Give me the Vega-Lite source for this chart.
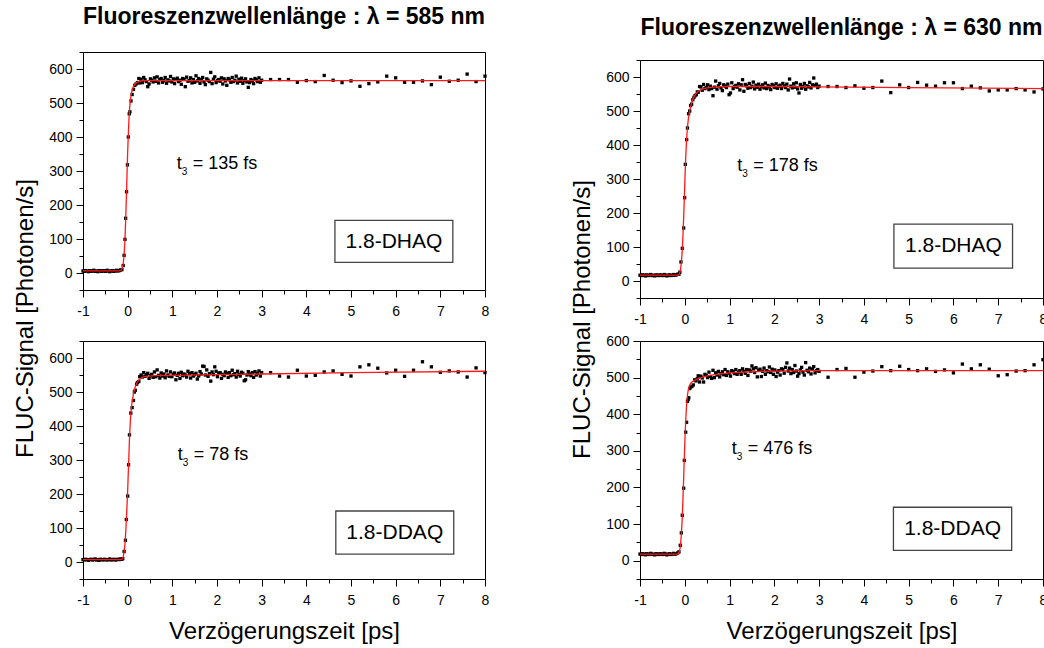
{
"$schema": "https://vega.github.io/schema/vega-lite/v6.json",
"padding": {"left": 13, "top": 5, "right": -2, "bottom": 0},
"background": "white",
"datasets": {
"A": [
{"x":-1.00,"y":6},{"x":-0.97,"y":5},{"x":-0.94,"y":7},{"x":-0.91,"y":6},{"x":-0.88,"y":4},{"x":-0.85,"y":7},{"x":-0.82,"y":5},{"x":-0.79,"y":6},{"x":-0.76,"y":8},{"x":-0.73,"y":5},{"x":-0.70,"y":6},{"x":-0.67,"y":4},{"x":-0.64,"y":7},{"x":-0.61,"y":6},{"x":-0.58,"y":5},{"x":-0.55,"y":7},{"x":-0.52,"y":6},{"x":-0.49,"y":5},{"x":-0.46,"y":8},{"x":-0.43,"y":6},{"x":-0.40,"y":4},{"x":-0.37,"y":6},{"x":-0.34,"y":7},{"x":-0.31,"y":5},{"x":-0.28,"y":6},{"x":-0.25,"y":8},{"x":-0.22,"y":6},{"x":-0.19,"y":7},{"x":-0.16,"y":9},
{"x":-0.13,"y":10},{"x":-0.10,"y":22},{"x":-0.08,"y":52},{"x":-0.06,"y":99},{"x":-0.045,"y":161},{"x":-0.025,"y":239},{"x":-0.005,"y":318},{"x":0.015,"y":400},{"x":0.035,"y":468},{"x":0.05,"y":474},{"x":0.075,"y":506},{"x":0.10,"y":525},{"x":0.13,"y":540},{"x":0.16,"y":552},{"x":0.19,"y":556},{"x":0.22,"y":560},{"x":0.25,"y":572},{"x":0.27,"y":559},
{"x":0.30,"y":570},{"x":0.33,"y":560},{"x":0.36,"y":575},{"x":0.39,"y":568},{"x":0.42,"y":563},{"x":0.45,"y":548},{"x":0.48,"y":556},{"x":0.51,"y":571},{"x":0.54,"y":567},{"x":0.57,"y":562},{"x":0.60,"y":574},{"x":0.63,"y":564},{"x":0.66,"y":577},{"x":0.69,"y":559},{"x":0.72,"y":569},{"x":0.75,"y":572},{"x":0.78,"y":561},{"x":0.81,"y":566},{"x":0.84,"y":575},{"x":0.87,"y":558},{"x":0.90,"y":568},{"x":0.93,"y":565},{"x":0.96,"y":578},{"x":0.99,"y":562},{"x":1.02,"y":571},{"x":1.05,"y":557},{"x":1.08,"y":569},{"x":1.11,"y":573},{"x":1.14,"y":563},{"x":1.17,"y":567},{"x":1.20,"y":555},{"x":1.23,"y":572},{"x":1.26,"y":570},{"x":1.29,"y":548},{"x":1.32,"y":576},{"x":1.35,"y":564},{"x":1.38,"y":566},{"x":1.41,"y":574},{"x":1.44,"y":559},{"x":1.47,"y":569},{"x":1.50,"y":561},{"x":1.53,"y":580},{"x":1.56,"y":565},{"x":1.59,"y":572},{"x":1.62,"y":558},{"x":1.65,"y":568},{"x":1.68,"y":575},{"x":1.71,"y":562},{"x":1.74,"y":554},{"x":1.77,"y":571},{"x":1.80,"y":567},{"x":1.83,"y":563},{"x":1.86,"y":590},{"x":1.89,"y":557},{"x":1.92,"y":570},{"x":1.95,"y":577},{"x":1.98,"y":560},{"x":2.01,"y":566},{"x":2.04,"y":569},{"x":2.07,"y":564},{"x":2.10,"y":574},{"x":2.13,"y":556},{"x":2.16,"y":571},{"x":2.19,"y":565},{"x":2.22,"y":552},{"x":2.25,"y":572},{"x":2.28,"y":568},{"x":2.31,"y":561},{"x":2.34,"y":575},{"x":2.37,"y":563},{"x":2.40,"y":567},{"x":2.43,"y":579},{"x":2.46,"y":559},{"x":2.49,"y":570},{"x":2.52,"y":564},{"x":2.55,"y":573},{"x":2.58,"y":558},{"x":2.61,"y":566},{"x":2.64,"y":571},{"x":2.67,"y":562},{"x":2.70,"y":546},{"x":2.73,"y":560},{"x":2.76,"y":569},{"x":2.79,"y":565},{"x":2.82,"y":557},{"x":2.85,"y":572},{"x":2.88,"y":568},{"x":2.91,"y":563},{"x":2.94,"y":574},{"x":2.97,"y":561},{"x":3.00,"y":567},
{"x":3.2,"y":569},{"x":3.4,"y":569},{"x":3.6,"y":569},{"x":3.8,"y":561},{"x":4.0,"y":566},{"x":4.2,"y":563},{"x":4.4,"y":581},{"x":4.6,"y":567},{"x":4.8,"y":560},{"x":5.0,"y":565},{"x":5.2,"y":549},{"x":5.4,"y":557},{"x":5.6,"y":562},{"x":5.8,"y":579},{"x":6.0,"y":574},{"x":6.2,"y":561},{"x":6.4,"y":561},{"x":6.6,"y":565},{"x":6.8,"y":554},{"x":7.0,"y":576},{"x":7.2,"y":564},{"x":7.4,"y":567},{"x":7.6,"y":585},{"x":7.8,"y":563},{"x":8.0,"y":579}
],
"B": [
{"x":-1.00,"y":7},{"x":-0.97,"y":6},{"x":-0.94,"y":8},{"x":-0.91,"y":7},{"x":-0.88,"y":5},{"x":-0.85,"y":7},{"x":-0.82,"y":8},{"x":-0.79,"y":6},{"x":-0.76,"y":7},{"x":-0.73,"y":9},{"x":-0.70,"y":6},{"x":-0.67,"y":7},{"x":-0.64,"y":5},{"x":-0.61,"y":8},{"x":-0.58,"y":7},{"x":-0.55,"y":6},{"x":-0.52,"y":8},{"x":-0.49,"y":7},{"x":-0.46,"y":6},{"x":-0.43,"y":7},{"x":-0.40,"y":9},{"x":-0.37,"y":6},{"x":-0.34,"y":7},{"x":-0.31,"y":8},{"x":-0.28,"y":6},{"x":-0.25,"y":7},{"x":-0.22,"y":8},{"x":-0.19,"y":7},{"x":-0.16,"y":9},
{"x":-0.13,"y":8},{"x":-0.11,"y":10},{"x":-0.08,"y":31},{"x":-0.05,"y":64},{"x":-0.03,"y":125},{"x":0.0,"y":194},{"x":0.02,"y":286},{"x":0.04,"y":374},{"x":0.07,"y":438},{"x":0.10,"y":454},{"x":0.13,"y":475},{"x":0.15,"y":500},{"x":0.17,"y":505},{"x":0.20,"y":523},{"x":0.22,"y":528},{"x":0.25,"y":531},{"x":0.27,"y":545},
{"x":0.30,"y":550},{"x":0.33,"y":544},{"x":0.36,"y":557},{"x":0.39,"y":546},{"x":0.42,"y":551},{"x":0.45,"y":555},{"x":0.48,"y":540},{"x":0.51,"y":548},{"x":0.54,"y":552},{"x":0.57,"y":543},{"x":0.60,"y":559},{"x":0.63,"y":545},{"x":0.66,"y":565},{"x":0.69,"y":549},{"x":0.72,"y":541},{"x":0.75,"y":556},{"x":0.78,"y":547},{"x":0.81,"y":553},{"x":0.84,"y":542},{"x":0.87,"y":562},{"x":0.90,"y":550},{"x":0.93,"y":546},{"x":0.96,"y":559},{"x":0.99,"y":545},{"x":1.02,"y":552},{"x":1.05,"y":556},{"x":1.08,"y":536},{"x":1.11,"y":549},{"x":1.14,"y":555},{"x":1.17,"y":540},{"x":1.20,"y":558},{"x":1.23,"y":548},{"x":1.26,"y":553},{"x":1.29,"y":550},{"x":1.32,"y":544},{"x":1.35,"y":561},{"x":1.38,"y":554},{"x":1.41,"y":541},{"x":1.44,"y":557},{"x":1.47,"y":547},{"x":1.50,"y":551},{"x":1.53,"y":555},{"x":1.56,"y":538},{"x":1.59,"y":547},{"x":1.62,"y":560},{"x":1.65,"y":553},{"x":1.68,"y":576},{"x":1.71,"y":575},{"x":1.74,"y":550},{"x":1.77,"y":565},{"x":1.80,"y":546},{"x":1.83,"y":554},{"x":1.86,"y":532},{"x":1.89,"y":559},{"x":1.92,"y":551},{"x":1.95,"y":574},{"x":1.98,"y":561},{"x":2.01,"y":545},{"x":2.04,"y":555},{"x":2.07,"y":557},{"x":2.10,"y":540},{"x":2.13,"y":552},{"x":2.16,"y":548},{"x":2.19,"y":559},{"x":2.22,"y":555},{"x":2.25,"y":543},{"x":2.28,"y":557},{"x":2.31,"y":548},{"x":2.34,"y":564},{"x":2.37,"y":551},{"x":2.40,"y":554},{"x":2.43,"y":544},{"x":2.46,"y":561},{"x":2.49,"y":552},{"x":2.52,"y":547},{"x":2.55,"y":558},{"x":2.58,"y":555},{"x":2.61,"y":533},{"x":2.64,"y":536},{"x":2.67,"y":550},{"x":2.70,"y":560},{"x":2.73,"y":553},{"x":2.76,"y":548},{"x":2.79,"y":557},{"x":2.82,"y":543},{"x":2.85,"y":560},{"x":2.88,"y":550},{"x":2.91,"y":555},{"x":2.94,"y":562},{"x":2.97,"y":547},{"x":3.00,"y":557},
{"x":3.2,"y":557},{"x":3.4,"y":547},{"x":3.6,"y":544},{"x":3.8,"y":564},{"x":4.0,"y":547},{"x":4.2,"y":549},{"x":4.4,"y":559},{"x":4.6,"y":562},{"x":4.8,"y":552},{"x":5.0,"y":547},{"x":5.2,"y":574},{"x":5.4,"y":580},{"x":5.6,"y":570},{"x":5.8,"y":556},{"x":6.0,"y":564},{"x":6.2,"y":546},{"x":6.4,"y":564},{"x":6.6,"y":589},{"x":6.8,"y":574},{"x":7.0,"y":558},{"x":7.2,"y":562},{"x":7.4,"y":559},{"x":7.6,"y":544},{"x":7.8,"y":571},{"x":8.0,"y":557}
],
"C": [
{"x":-1.00,"y":17},{"x":-0.97,"y":16},{"x":-0.94,"y":18},{"x":-0.91,"y":17},{"x":-0.88,"y":15},{"x":-0.85,"y":18},{"x":-0.82,"y":16},{"x":-0.79,"y":17},{"x":-0.76,"y":19},{"x":-0.73,"y":16},{"x":-0.70,"y":17},{"x":-0.67,"y":15},{"x":-0.64,"y":18},{"x":-0.61,"y":17},{"x":-0.58,"y":16},{"x":-0.55,"y":18},{"x":-0.52,"y":17},{"x":-0.49,"y":16},{"x":-0.46,"y":19},{"x":-0.43,"y":17},{"x":-0.40,"y":15},{"x":-0.37,"y":17},{"x":-0.34,"y":18},{"x":-0.31,"y":16},{"x":-0.28,"y":17},{"x":-0.25,"y":19},{"x":-0.22,"y":17},{"x":-0.19,"y":18},{"x":-0.16,"y":20},
{"x":-0.13,"y":20},{"x":-0.11,"y":26},{"x":-0.085,"y":56},{"x":-0.055,"y":96},{"x":-0.025,"y":156},{"x":-0.003,"y":245},{"x":0.012,"y":343},{"x":0.042,"y":416},{"x":0.06,"y":450},{"x":0.085,"y":492},{"x":0.11,"y":500},{"x":0.13,"y":516},{"x":0.153,"y":520},{"x":0.18,"y":533},{"x":0.205,"y":540},{"x":0.23,"y":545},{"x":0.257,"y":548},{"x":0.28,"y":556},
{"x":0.30,"y":555},{"x":0.33,"y":572},{"x":0.36,"y":571},{"x":0.39,"y":561},{"x":0.42,"y":578},{"x":0.45,"y":566},{"x":0.48,"y":569},{"x":0.51,"y":577},{"x":0.54,"y":563},{"x":0.57,"y":573},{"x":0.60,"y":566},{"x":0.63,"y":545},{"x":0.66,"y":570},{"x":0.69,"y":588},{"x":0.72,"y":564},{"x":0.75,"y":574},{"x":0.78,"y":581},{"x":0.81,"y":568},{"x":0.84,"y":560},{"x":0.87,"y":577},{"x":0.90,"y":573},{"x":0.93,"y":569},{"x":0.96,"y":579},{"x":0.99,"y":548},{"x":1.02,"y":553},{"x":1.05,"y":583},{"x":1.08,"y":566},{"x":1.11,"y":572},{"x":1.14,"y":575},{"x":1.17,"y":570},{"x":1.20,"y":580},{"x":1.23,"y":562},{"x":1.26,"y":577},{"x":1.29,"y":592},{"x":1.32,"y":558},{"x":1.35,"y":578},{"x":1.38,"y":574},{"x":1.41,"y":567},{"x":1.44,"y":581},{"x":1.47,"y":569},{"x":1.50,"y":573},{"x":1.53,"y":585},{"x":1.56,"y":565},{"x":1.59,"y":576},{"x":1.62,"y":570},{"x":1.65,"y":579},{"x":1.68,"y":564},{"x":1.71,"y":572},{"x":1.74,"y":577},{"x":1.77,"y":568},{"x":1.80,"y":582},{"x":1.83,"y":566},{"x":1.86,"y":575},{"x":1.89,"y":571},{"x":1.92,"y":563},{"x":1.95,"y":578},{"x":1.98,"y":574},{"x":2.01,"y":569},{"x":2.04,"y":580},{"x":2.07,"y":567},{"x":2.10,"y":573},{"x":2.13,"y":576},{"x":2.16,"y":566},{"x":2.19,"y":581},{"x":2.22,"y":574},{"x":2.25,"y":569},{"x":2.28,"y":579},{"x":2.31,"y":562},{"x":2.34,"y":594},{"x":2.37,"y":573},{"x":2.40,"y":568},{"x":2.43,"y":580},{"x":2.46,"y":570},{"x":2.49,"y":583},{"x":2.52,"y":565},{"x":2.55,"y":553},{"x":2.58,"y":578},{"x":2.61,"y":567},{"x":2.64,"y":572},{"x":2.67,"y":581},{"x":2.70,"y":564},{"x":2.73,"y":574},{"x":2.76,"y":571},{"x":2.79,"y":584},{"x":2.82,"y":568},{"x":2.85,"y":577},{"x":2.88,"y":597},{"x":2.91,"y":575},{"x":2.94,"y":579},{"x":2.97,"y":569},{"x":3.00,"y":573},
{"x":3.2,"y":572},{"x":3.4,"y":572},{"x":3.6,"y":569},{"x":3.8,"y":574},{"x":4.0,"y":567},{"x":4.2,"y":569},{"x":4.4,"y":588},{"x":4.6,"y":554},{"x":4.8,"y":577},{"x":5.0,"y":569},{"x":5.2,"y":584},{"x":5.4,"y":576},{"x":5.6,"y":573},{"x":5.8,"y":583},{"x":6.0,"y":583},{"x":6.2,"y":566},{"x":6.4,"y":573},{"x":6.6,"y":568},{"x":6.8,"y":559},{"x":7.0,"y":562},{"x":7.2,"y":562},{"x":7.4,"y":566},{"x":7.6,"y":562},{"x":7.8,"y":556},{"x":8.0,"y":565}
],
"D": [
{"x":-1.00,"y":18},{"x":-0.97,"y":17},{"x":-0.94,"y":19},{"x":-0.91,"y":18},{"x":-0.88,"y":16},{"x":-0.85,"y":19},{"x":-0.82,"y":17},{"x":-0.79,"y":18},{"x":-0.76,"y":20},{"x":-0.73,"y":17},{"x":-0.70,"y":18},{"x":-0.67,"y":16},{"x":-0.64,"y":19},{"x":-0.61,"y":18},{"x":-0.58,"y":17},{"x":-0.55,"y":19},{"x":-0.52,"y":18},{"x":-0.49,"y":17},{"x":-0.46,"y":20},{"x":-0.43,"y":18},{"x":-0.40,"y":16},{"x":-0.37,"y":18},{"x":-0.34,"y":19},{"x":-0.31,"y":17},{"x":-0.28,"y":18},{"x":-0.25,"y":20},{"x":-0.22,"y":18},{"x":-0.19,"y":19},{"x":-0.16,"y":21},
{"x":-0.13,"y":24},{"x":-0.10,"y":42},{"x":-0.077,"y":76},{"x":-0.055,"y":124},{"x":-0.025,"y":198},{"x":-0.01,"y":274},{"x":0.02,"y":351},{"x":0.04,"y":378},{"x":0.06,"y":435},{"x":0.075,"y":440},{"x":0.09,"y":445},{"x":0.11,"y":470},{"x":0.13,"y":474},{"x":0.16,"y":476},{"x":0.19,"y":480},{"x":0.22,"y":494},{"x":0.25,"y":491},{"x":0.28,"y":497},
{"x":0.30,"y":505},{"x":0.33,"y":488},{"x":0.36,"y":504},{"x":0.39,"y":499},{"x":0.42,"y":488},{"x":0.45,"y":509},{"x":0.48,"y":506},{"x":0.51,"y":500},{"x":0.54,"y":515},{"x":0.57,"y":503},{"x":0.60,"y":498},{"x":0.63,"y":520},{"x":0.66,"y":500},{"x":0.69,"y":513},{"x":0.72,"y":507},{"x":0.75,"y":517},{"x":0.78,"y":502},{"x":0.81,"y":511},{"x":0.84,"y":516},{"x":0.87,"y":508},{"x":0.90,"y":522},{"x":0.93,"y":506},{"x":0.96,"y":516},{"x":0.99,"y":512},{"x":1.02,"y":504},{"x":1.05,"y":519},{"x":1.08,"y":516},{"x":1.11,"y":511},{"x":1.14,"y":522},{"x":1.17,"y":509},{"x":1.20,"y":515},{"x":1.23,"y":519},{"x":1.26,"y":509},{"x":1.29,"y":524},{"x":1.32,"y":517},{"x":1.35,"y":512},{"x":1.38,"y":522},{"x":1.41,"y":506},{"x":1.44,"y":521},{"x":1.47,"y":517},{"x":1.50,"y":532},{"x":1.53,"y":524},{"x":1.56,"y":514},{"x":1.59,"y":527},{"x":1.62,"y":502},{"x":1.65,"y":520},{"x":1.68,"y":523},{"x":1.71,"y":503},{"x":1.74,"y":517},{"x":1.77,"y":526},{"x":1.80,"y":509},{"x":1.83,"y":519},{"x":1.86,"y":516},{"x":1.89,"y":529},{"x":1.92,"y":514},{"x":1.95,"y":523},{"x":1.98,"y":509},{"x":2.01,"y":521},{"x":2.04,"y":503},{"x":2.07,"y":515},{"x":2.10,"y":519},{"x":2.13,"y":507},{"x":2.16,"y":524},{"x":2.19,"y":522},{"x":2.22,"y":512},{"x":2.25,"y":528},{"x":2.28,"y":540},{"x":2.31,"y":518},{"x":2.34,"y":526},{"x":2.37,"y":511},{"x":2.40,"y":522},{"x":2.43,"y":514},{"x":2.46,"y":533},{"x":2.49,"y":518},{"x":2.52,"y":504},{"x":2.55,"y":511},{"x":2.58,"y":521},{"x":2.61,"y":528},{"x":2.64,"y":515},{"x":2.67,"y":507},{"x":2.70,"y":541},{"x":2.73,"y":520},{"x":2.76,"y":516},{"x":2.79,"y":526},{"x":2.82,"y":510},{"x":2.85,"y":523},{"x":2.88,"y":530},{"x":2.91,"y":513},{"x":2.94,"y":519},{"x":2.97,"y":522},{"x":3.00,"y":517},
{"x":3.2,"y":501},{"x":3.4,"y":522},{"x":3.6,"y":525},{"x":3.8,"y":501},{"x":4.0,"y":515},{"x":4.2,"y":518},{"x":4.4,"y":530},{"x":4.6,"y":519},{"x":4.8,"y":531},{"x":5.0,"y":522},{"x":5.2,"y":519},{"x":5.4,"y":524},{"x":5.6,"y":517},{"x":5.8,"y":521},{"x":6.0,"y":513},{"x":6.2,"y":537},{"x":6.4,"y":524},{"x":6.6,"y":535},{"x":6.8,"y":523},{"x":7.0,"y":505},{"x":7.2,"y":508},{"x":7.4,"y":518},{"x":7.6,"y":519},{"x":7.8,"y":535},{"x":8.0,"y":549}
],
"fA": [{"x":-1,"y":6},{"x":-0.2,"y":6},{"x":-0.15,"y":8},{"x":-0.12,"y":15},{"x":-0.1,"y":26},{"x":-0.08,"y":52},{"x":-0.06,"y":99},{"x":-0.045,"y":155},{"x":-0.03,"y":220},{"x":-0.015,"y":290},{"x":0,"y":355},{"x":0.015,"y":410},{"x":0.03,"y":455},{"x":0.045,"y":487},{"x":0.06,"y":508},{"x":0.08,"y":526},{"x":0.1,"y":538},{"x":0.13,"y":549},{"x":0.16,"y":555},{"x":0.2,"y":560},{"x":0.25,"y":563},{"x":0.3,"y":565},{"x":0.4,"y":566},{"x":8,"y":566}],
"fB": [{"x":-1,"y":7},{"x":-0.15,"y":7},{"x":-0.12,"y":9},{"x":-0.1,"y":15},{"x":-0.08,"y":30},{"x":-0.06,"y":55},{"x":-0.04,"y":95},{"x":-0.02,"y":150},{"x":0,"y":210},{"x":0.02,"y":285},{"x":0.04,"y":360},{"x":0.06,"y":415},{"x":0.08,"y":450},{"x":0.1,"y":472},{"x":0.13,"y":495},{"x":0.17,"y":515},{"x":0.21,"y":528},{"x":0.26,"y":537},{"x":0.32,"y":543},{"x":0.4,"y":546},{"x":0.6,"y":548},{"x":1,"y":549},{"x":2,"y":551},{"x":3,"y":553},{"x":5,"y":557},{"x":8,"y":561}],
"fC": [{"x":-1,"y":17},{"x":-0.15,"y":17},{"x":-0.12,"y":21},{"x":-0.1,"y":30},{"x":-0.08,"y":50},{"x":-0.06,"y":82},{"x":-0.04,"y":135},{"x":-0.02,"y":205},{"x":0,"y":285},{"x":0.02,"y":360},{"x":0.04,"y":415},{"x":0.06,"y":452},{"x":0.08,"y":477},{"x":0.1,"y":494},{"x":0.13,"y":512},{"x":0.16,"y":527},{"x":0.2,"y":540},{"x":0.25,"y":551},{"x":0.3,"y":558},{"x":0.4,"y":565},{"x":0.5,"y":568},{"x":0.7,"y":571},{"x":1,"y":572},{"x":2,"y":572},{"x":3,"y":571},{"x":5,"y":569},{"x":8,"y":566}],
"fD": [{"x":-1,"y":18},{"x":-0.15,"y":18},{"x":-0.12,"y":25},{"x":-0.1,"y":38},{"x":-0.08,"y":65},{"x":-0.06,"y":108},{"x":-0.04,"y":170},{"x":-0.02,"y":245},{"x":0,"y":320},{"x":0.02,"y":380},{"x":0.04,"y":425},{"x":0.06,"y":452},{"x":0.08,"y":468},{"x":0.1,"y":477},{"x":0.13,"y":484},{"x":0.16,"y":488},{"x":0.2,"y":491},{"x":0.3,"y":497},{"x":0.5,"y":505},{"x":0.7,"y":509},{"x":1,"y":513},{"x":1.5,"y":516},{"x":2,"y":518},{"x":3,"y":519},{"x":8,"y":519}]
},
"columns": 2,
"align": "none",
"spacing": 80,
"concat": [
{
"bounds": "flush",
"spacing": 51,
"vconcat": [
{
"title": {"text": "Fluoreszenzwellenlänge : λ = 585 nm", "fontSize": 23, "fontWeight": "bold", "font": "Liberation Sans", "color": "black", "anchor": "middle", "frame": "group", "offset": 16},
"width": 402, "height": 238,
"encoding": {
"x": {"field": "x", "type": "quantitative", "scale": {"domain": [-1, 8], "nice": false, "zero": false}, "axis": {"title": null, "values": [-1,-0.5,0,0.5,1,1.5,2,2.5,3,3.5,4,4.5,5,5.5,6,6.5,7,7.5,8], "labelExpr": "datum.value % 1 === 0 ? '' + datum.value : ''", "tickSize": {"condition": {"test": "datum.value % 1 === 0", "value": 7}, "value": 4}}},
"y": {"field": "y", "type": "quantitative", "scale": {"domain": [-50, 650], "nice": false, "zero": false}, "axis": {"title": null, "values": [-50,0,50,100,150,200,250,300,350,400,450,500,550,600,650], "labelExpr": "datum.value % 100 === 0 ? '' + datum.value : ''", "tickSize": {"condition": {"test": "datum.value % 100 === 0", "value": 7}, "value": 4}}}
},
"layer": [
{"data": {"name": "A"}, "mark": {"type": "square", "size": 11, "color": "black", "opacity": 1}},
{"data": {"name": "fA"}, "mark": {"type": "line", "color": "#ff1a1a", "strokeWidth": 1.3}, "encoding": {}},
{"data": {"values": [{"x": 4.64, "x2": 7.28, "y": 31, "y2": 155}]}, "mark": {"type": "rect", "fill": "white", "stroke": "#444444", "strokeWidth": 1.3}, "encoding": {"x2": {"field": "x2"}, "y2": {"field": "y2"}}},
{"data": {"values": [{"x": 5.96, "y": 92, "t": "1.8-DHAQ"}]}, "mark": {"type": "text", "fontSize": 21, "align": "center", "baseline": "middle", "color": "black"}, "encoding": {"text": {"field": "t"}}},
{"data": {"values": [{"x": 1.1, "y": 322, "a": "t", "b": "3", "c": "= 135 fs"}]},
 "layer": [
 {"mark": {"type": "text", "fontSize": 18, "align": "left", "baseline": "middle", "color": "black"}, "encoding": {"text": {"field": "a"}}},
 {"mark": {"type": "text", "fontSize": 10, "align": "left", "baseline": "middle", "dx": 5, "dy": 8, "color": "black"}, "encoding": {"text": {"field": "b"}}},
 {"mark": {"type": "text", "fontSize": 18, "align": "left", "baseline": "middle", "dx": 16, "color": "black"}, "encoding": {"text": {"field": "c"}}}
 ]}
]
},
{
"width": 402, "height": 238,
"encoding": {
"x": {"field": "x", "type": "quantitative", "scale": {"domain": [-1, 8], "nice": false, "zero": false}, "axis": {"title": "Verzögerungszeit [ps]", "values": [-1,-0.5,0,0.5,1,1.5,2,2.5,3,3.5,4,4.5,5,5.5,6,6.5,7,7.5,8], "labelExpr": "datum.value % 1 === 0 ? '' + datum.value : ''", "tickSize": {"condition": {"test": "datum.value % 1 === 0", "value": 7}, "value": 4}}},
"y": {"field": "y", "type": "quantitative", "scale": {"domain": [-50, 650], "nice": false, "zero": false}, "axis": {"title": "FLUC-Signal [Photonen/s]", "titleY": -23, "values": [-50,0,50,100,150,200,250,300,350,400,450,500,550,600,650], "labelExpr": "datum.value % 100 === 0 ? '' + datum.value : ''", "tickSize": {"condition": {"test": "datum.value % 100 === 0", "value": 7}, "value": 4}}}
},
"layer": [
{"data": {"name": "B"}, "mark": {"type": "square", "size": 11, "color": "black", "opacity": 1}},
{"data": {"name": "fB"}, "mark": {"type": "line", "color": "#ff1a1a", "strokeWidth": 1.3}, "encoding": {}},
{"data": {"values": [{"x": 4.66, "x2": 7.3, "y": 23, "y2": 150}]}, "mark": {"type": "rect", "fill": "white", "stroke": "#444444", "strokeWidth": 1.3}, "encoding": {"x2": {"field": "x2"}, "y2": {"field": "y2"}}},
{"data": {"values": [{"x": 5.98, "y": 86, "t": "1.8-DDAQ"}]}, "mark": {"type": "text", "fontSize": 21, "align": "center", "baseline": "middle", "color": "black"}, "encoding": {"text": {"field": "t"}}},
{"data": {"values": [{"x": 1.12, "y": 314, "a": "t", "b": "3", "c": "= 78 fs"}]},
 "layer": [
 {"mark": {"type": "text", "fontSize": 18, "align": "left", "baseline": "middle", "color": "black"}, "encoding": {"text": {"field": "a"}}},
 {"mark": {"type": "text", "fontSize": 10, "align": "left", "baseline": "middle", "dx": 5, "dy": 8, "color": "black"}, "encoding": {"text": {"field": "b"}}},
 {"mark": {"type": "text", "fontSize": 18, "align": "left", "baseline": "middle", "dx": 16, "color": "black"}, "encoding": {"text": {"field": "c"}}}
 ]}
]
}
]
},
{
"bounds": "flush",
"spacing": 7,
"vconcat": [
{
"width": 403, "height": 1,
"view": {"stroke": null},
"data": {"values": [{"k": 0}]},
"mark": {"type": "rule", "opacity": 0},
"encoding": {}
},
{
"bounds": "flush",
"spacing": 43,
"vconcat": [
{
"title": {"text": "Fluoreszenzwellenlänge : λ = 630 nm", "fontSize": 23, "fontWeight": "bold", "font": "Liberation Sans", "color": "black", "anchor": "middle", "frame": "group", "offset": 13},
"width": 403, "height": 238,
"encoding": {
"x": {"field": "x", "type": "quantitative", "scale": {"domain": [-1, 8], "nice": false, "zero": false}, "axis": {"title": null, "values": [-1,-0.5,0,0.5,1,1.5,2,2.5,3,3.5,4,4.5,5,5.5,6,6.5,7,7.5,8], "labelExpr": "datum.value % 1 === 0 ? '' + datum.value : ''", "tickSize": {"condition": {"test": "datum.value % 1 === 0", "value": 7}, "value": 4}}},
"y": {"field": "y", "type": "quantitative", "scale": {"domain": [-50, 650], "nice": false, "zero": false}, "axis": {"title": null, "values": [-50,0,50,100,150,200,250,300,350,400,450,500,550,600,650], "labelExpr": "datum.value % 100 === 0 ? '' + datum.value : ''", "tickSize": {"condition": {"test": "datum.value % 100 === 0", "value": 7}, "value": 4}}}
},
"layer": [
{"data": {"name": "C"}, "mark": {"type": "square", "size": 11, "color": "black", "opacity": 1}},
{"data": {"name": "fC"}, "mark": {"type": "line", "color": "#ff1a1a", "strokeWidth": 1.3}, "encoding": {}},
{"data": {"values": [{"x": 4.67, "x2": 7.32, "y": 38, "y2": 167}]}, "mark": {"type": "rect", "fill": "white", "stroke": "#444444", "strokeWidth": 1.3}, "encoding": {"x2": {"field": "x2"}, "y2": {"field": "y2"}}},
{"data": {"values": [{"x": 6.0, "y": 102, "t": "1.8-DHAQ"}]}, "mark": {"type": "text", "fontSize": 21, "align": "center", "baseline": "middle", "color": "black"}, "encoding": {"text": {"field": "t"}}},
{"data": {"values": [{"x": 1.17, "y": 338, "a": "t", "b": "3", "c": "= 178 fs"}]},
 "layer": [
 {"mark": {"type": "text", "fontSize": 18, "align": "left", "baseline": "middle", "color": "black"}, "encoding": {"text": {"field": "a"}}},
 {"mark": {"type": "text", "fontSize": 10, "align": "left", "baseline": "middle", "dx": 5, "dy": 8, "color": "black"}, "encoding": {"text": {"field": "b"}}},
 {"mark": {"type": "text", "fontSize": 18, "align": "left", "baseline": "middle", "dx": 16, "color": "black"}, "encoding": {"text": {"field": "c"}}}
 ]}
]
},
{
"width": 403, "height": 238,
"encoding": {
"x": {"field": "x", "type": "quantitative", "scale": {"domain": [-1, 8], "nice": false, "zero": false}, "axis": {"title": "Verzögerungszeit [ps]", "values": [-1,-0.5,0,0.5,1,1.5,2,2.5,3,3.5,4,4.5,5,5.5,6,6.5,7,7.5,8], "labelExpr": "datum.value % 1 === 0 ? '' + datum.value : ''", "tickSize": {"condition": {"test": "datum.value % 1 === 0", "value": 7}, "value": 4}}},
"y": {"field": "y", "type": "quantitative", "scale": {"domain": [-50, 600], "nice": false, "zero": false}, "axis": {"title": "FLUC-Signal [Photonen/s]", "titleY": -22, "values": [-50,0,50,100,150,200,250,300,350,400,450,500,550,600], "labelExpr": "datum.value % 100 === 0 ? '' + datum.value : ''", "tickSize": {"condition": {"test": "datum.value % 100 === 0", "value": 7}, "value": 4}}}
},
"layer": [
{"data": {"name": "D"}, "mark": {"type": "square", "size": 11, "color": "black", "opacity": 1}},
{"data": {"name": "fD"}, "mark": {"type": "line", "color": "#ff1a1a", "strokeWidth": 1.3}, "encoding": {}},
{"data": {"values": [{"x": 4.66, "x2": 7.3, "y": 28, "y2": 146}]}, "mark": {"type": "rect", "fill": "white", "stroke": "#444444", "strokeWidth": 1.3}, "encoding": {"x2": {"field": "x2"}, "y2": {"field": "y2"}}},
{"data": {"values": [{"x": 5.98, "y": 87, "t": "1.8-DDAQ"}]}, "mark": {"type": "text", "fontSize": 21, "align": "center", "baseline": "middle", "color": "black"}, "encoding": {"text": {"field": "t"}}},
{"data": {"values": [{"x": 1.05, "y": 305, "a": "t", "b": "3", "c": "= 476 fs"}]},
 "layer": [
 {"mark": {"type": "text", "fontSize": 18, "align": "left", "baseline": "middle", "color": "black"}, "encoding": {"text": {"field": "a"}}},
 {"mark": {"type": "text", "fontSize": 10, "align": "left", "baseline": "middle", "dx": 5, "dy": 8, "color": "black"}, "encoding": {"text": {"field": "b"}}},
 {"mark": {"type": "text", "fontSize": 18, "align": "left", "baseline": "middle", "dx": 16, "color": "black"}, "encoding": {"text": {"field": "c"}}}
 ]}
]
}
]
}
]
}
],
"config": {
"font": "Liberation Sans",
"view": {"stroke": "black", "strokeWidth": 1},
"text": {"font": "Liberation Sans"},
"axis": {"domainColor": "black", "tickColor": "black", "labelColor": "black", "titleColor": "black", "labelFont": "Liberation Sans", "labelFontSize": 14, "titleFont": "Liberation Sans", "titleFontSize": 24, "titleFontWeight": "normal", "grid": false, "domainWidth": 1, "tickWidth": 1, "labelOverlap": false, "labelFlush": false},
"axisX": {"labelPadding": 7, "titlePadding": 12},
"axisY": {"labelPadding": 4, "titlePadding": 11}
}
}
